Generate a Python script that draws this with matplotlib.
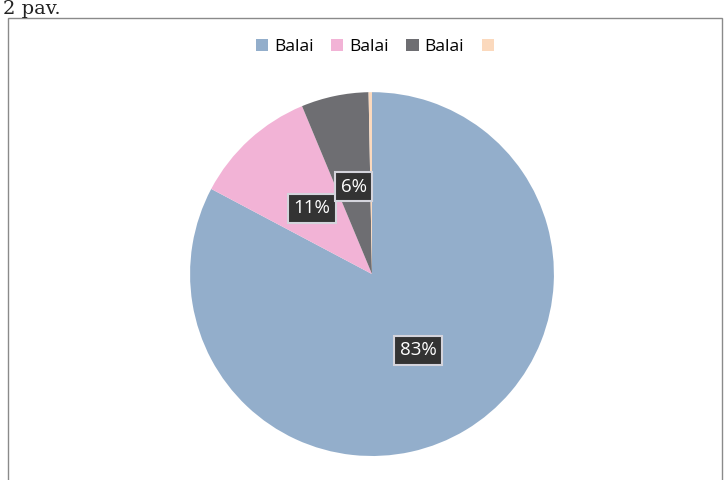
import matplotlib.pyplot as plt
import numpy as np
from matplotlib.patches import Rectangle

# pie data
labels = ['Balai', 'Balai', 'Balai', '']
values = [83, 11, 6, 0.3]
shown_pct = ['83%', '11%', '6%', '']
colors = ['#93aecb', '#f2b3d6', '#6e6e72', '#fbd9bd']

fig = plt.figure(figsize=(7.24, 4.80), dpi=100)
fig.patch.set_facecolor('white')

# chart frame (bottom cut off in the scan)
fig.patches.append(Rectangle((8 / 724, -0.01), 714 / 724, 0.9725,
                             transform=fig.transFigure, fill=False,
                             edgecolor='#8a8a8a', linewidth=1.0))

fig.text(0.004, 0.999, '2 pav.', family='DejaVu Serif', fontsize=14,
         va='top', ha='left', color='#222222')

ax = fig.add_axes([0.2624, 0.05, 0.5028, 0.758])
wedges, _ = ax.pie(values, colors=colors, startangle=90, counterclock=False,
                   radius=1.0)
ax.set_xlim(-1, 1)
ax.set_ylim(-1, 1)

# percentage labels in dark boxes, placed at the slice middles
total = sum(values)
start = 90.0
for v, txt in zip(values, shown_pct):
    span = 360.0 * v / total
    mid = np.deg2rad(start - span / 2)
    start -= span
    if not txt:
        continue
    ax.text(0.49 * np.cos(mid), 0.49 * np.sin(mid), txt, ha='center',
            va='center', color='white', fontsize=13.5, family='Open Sans',
            bbox=dict(boxstyle='square,pad=0.3', facecolor='#333333',
                      edgecolor='#d4d4dc', linewidth=1.5))

fig.legend(wedges, labels, loc='center', bbox_to_anchor=(378 / 724, 1 - 47 / 480),
           ncol=4, frameon=False, handlelength=0.7, handleheight=0.7,
           handletextpad=0.35, columnspacing=1.0,
           prop={'family': 'Open Sans', 'size': 12.5})

fig.savefig('out.png', dpi=100)
